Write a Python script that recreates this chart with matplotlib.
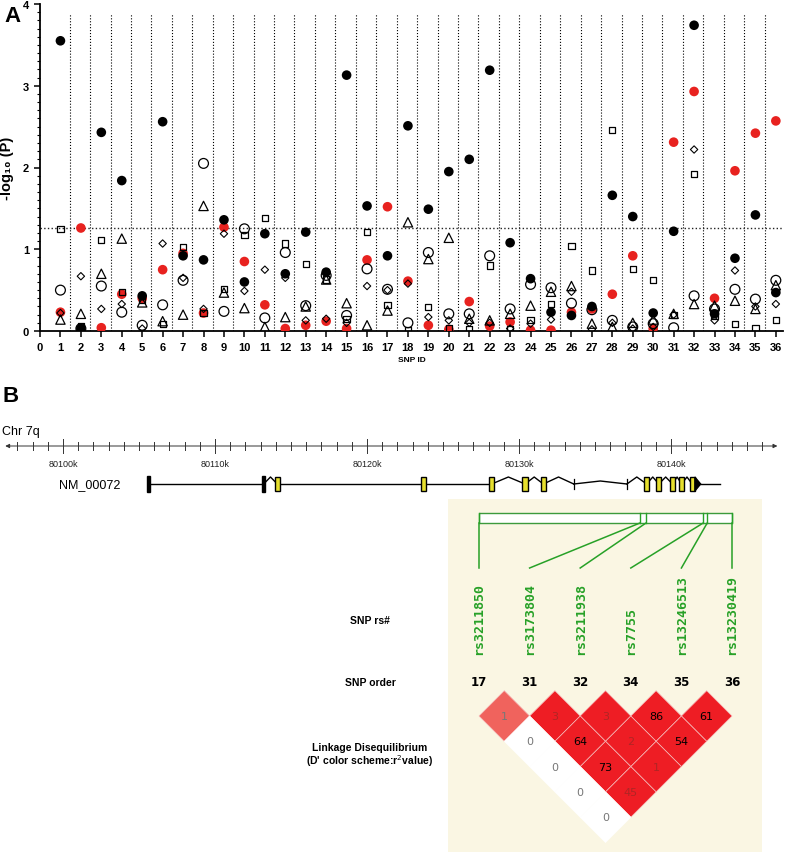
import matplotlib
matplotlib.use('Agg')
import matplotlib.pyplot as plt
import numpy as np
from matplotlib.patches import Rectangle, Polygon

plt.rcParams['font.family'] = ['Liberation Sans', 'DejaVu Sans']

# ---------------- panel A: -log10(P) per SNP, six association tests ----------------
snp_id = np.arange(1, 37)
black_fill = [3.55, 0.03, 2.43, 1.84, 0.43, 2.56, 0.92, 0.87, 1.36, 0.60,
              1.19, 0.70, 1.21, 0.72, 3.13, 1.53, 0.92, 2.51, 1.49, 1.95,
              2.10, 3.19, 1.08, 0.64, 0.23, 0.19, 0.30, 1.66, 1.40, 0.22,
              1.22, 3.74, 0.21, 0.89, 1.42, 0.47]
red_fill = [0.23, 1.26, 0.04, 0.45, 0.40, 0.75, 0.95, 0.22, 1.27, 0.85,
            0.32, 0.03, 0.07, 0.12, 0.03, 0.87, 1.52, 0.61, 0.07, 0.02,
            0.36, 0.06, 0.11, 0.01, 0.01, 0.23, 0.27, 0.45, 0.92, 0.03,
            2.31, 2.93, 0.40, 1.96, 2.42, 2.57]
open_circle = [0.50, 0.03, 0.55, 0.23, 0.07, 0.32, 0.62, 2.05, 0.24, 1.25,
               0.16, 0.96, 0.31, 0.68, 0.19, 0.76, 0.51, 0.10, 0.96, 0.21,
               0.21, 0.92, 0.27, 0.57, 0.53, 0.34, 0.26, 0.13, 0.05, 0.09,
               0.04, 0.43, 0.27, 0.51, 0.39, 0.62]
open_triangle = [0.14, 0.21, 0.70, 1.13, 0.35, 0.12, 0.20, 1.53, 0.47, 0.28,
                 0.05, 0.17, 0.30, 0.63, 0.34, 0.07, 0.25, 1.33, 0.88, 1.14,
                 0.15, 0.13, 0.21, 0.31, 0.48, 0.55, 0.09, 0.05, 0.10, 0.14,
                 0.21, 0.33, 0.31, 0.37, 0.27, 0.56]
open_square = [1.25, 0.06, 1.11, 0.48, 0.38, 0.09, 1.03, 0.22, 0.51, 1.17,
               1.38, 1.07, 0.82, 0.63, 0.15, 1.21, 0.32, 0.01, 0.29, 0.03,
               0.02, 0.80, 0.02, 0.13, 0.33, 1.04, 0.74, 2.46, 0.76, 0.62,
               0.20, 1.92, 0.19, 0.09, 0.04, 0.13]
open_diamond = [0.22, 0.67, 0.27, 0.33, 0.03, 1.07, 0.65, 0.27, 1.19, 0.49,
                0.75, 0.65, 0.13, 0.15, 0.10, 0.55, 0.50, 0.58, 0.17, 0.13,
                0.10, 0.10, 0.03, 0.09, 0.14, 0.48, 0.02, 0.10, 0.03, 0.05,
                0.20, 2.22, 0.13, 0.74, 0.30, 0.33]
threshold = 1.26

# ---------------- panel B: gene track (positions in kb) ----------------
chrom_ticks = [80100, 80110, 80120, 80130, 80140]
chrom_range = (80096.2, 80147.0)
gene_name = "NM_00072"
gene_span = (80105.6, 80143.2)
exon_pos = [80105.6, 80113.2, 80114.1, 80123.7, 80128.2, 80130.4, 80131.6,
            80133.6, 80137.1, 80138.4, 80139.2, 80140.1, 80140.7, 80141.4]
exon_kind = ['utr', 'utr', 'cds', 'cds', 'cds', 'cds', 'cds',
             'tick', 'tick', 'cds', 'cds', 'cds', 'cds', 'end']
intron_bend = [0, 7, 0, 0, 7, 7, 7, 3, 7, 7, 7, 7, 7]

# ---------------- panel B: LD block ----------------
snp_rs = ['rs3211850', 'rs3173804', 'rs3211938', 'rs7755', 'rs13246513', 'rs13230419']
snp_order = ['17', '31', '32', '34', '35', '36']
snp_bar_pos = [0.0, 3.18, 3.30, 4.43, 4.51, 5.0]
ld_pairs = [(0, 1), (1, 2), (2, 3), (3, 4), (4, 5),
            (0, 2), (1, 3), (2, 4), (3, 5),
            (0, 3), (1, 4), (2, 5),
            (0, 4), (1, 5),
            (0, 5)]
ld_r2 = [1, 3, 3, 86, 61,
         0, 64, 2, 54,
         0, 73, 1,
         0, 45,
         0]
ld_dprime_level = [1, 2, 2, 2, 2,
                   0, 2, 2, 2,
                   0, 2, 2,
                   0, 2,
                   0]

W, H = 785, 853
fig = plt.figure(figsize=(W / 100, H / 100), dpi=100)

# ---- panel A ----
ax = fig.add_axes([40 / W, 1 - 332 / H, 743 / W, 327 / H])
ax.set_xlim(0, 36.35)
ax.set_ylim(0, 4)
for xv in np.arange(1, 36) + 0.45:
    ax.axvline(xv, ymax=3.88 / 4, color='black', ls=':', lw=0.8, zorder=1)
ax.axhline(threshold, color='#222222', ls=':', lw=1.0, zorder=1)

ax.scatter(snp_id, red_fill, s=48, color='#e8221f', edgecolors='none', zorder=3)
ax.scatter(snp_id, black_fill, s=48, color='black', edgecolors='none', zorder=4)
ax.scatter(snp_id, open_circle, s=50, facecolors='none', edgecolors='black', lw=0.9, zorder=5)
ax.scatter(snp_id, open_triangle, s=45, marker='^', facecolors='none', edgecolors='black', lw=0.9, zorder=5)
ax.scatter(snp_id, open_square, s=20, marker='s', facecolors='none', edgecolors='black', lw=0.9, zorder=5)
ax.scatter(snp_id, open_diamond, s=14, marker='D', facecolors='none', edgecolors='black', lw=0.8, zorder=5)

ax.spines['top'].set_visible(False)
ax.spines['right'].set_visible(False)
ax.spines['left'].set_linewidth(1.3)
ax.spines['bottom'].set_linewidth(1.3)
ax.set_xticks(range(0, 37))
ax.set_yticks(range(0, 5))
ax.set_yticks(np.arange(0, 4.01, 0.1), minor=True)
ax.tick_params(axis='both', direction='out', width=1.1, length=4, labelsize=8, pad=4)
ax.tick_params(axis='y', which='minor', length=2, width=0.8)
for lbl in ax.get_xticklabels() + ax.get_yticklabels():
    lbl.set_fontweight('bold')
ax.set_xlabel('SNP ID', fontsize=6, fontweight='bold', labelpad=3)
ax.set_ylabel('-log₁₀ (P)', fontsize=10.5, fontweight='bold', labelpad=6)
fig.text(4 / W, 1 - 16 / H, 'A', fontsize=16, fontweight='bold', va='center')
fig.text(2 / W, 1 - 397 / H, 'B', fontsize=16, fontweight='bold', va='center')

# ---- panel B: chromosome axis and gene ----
axg = fig.add_axes([0, 1 - 500 / H, 1, 90 / H])
axg.set_xlim(80100 - 63 / 15.2, 80100 + (W - 63) / 15.2)
axg.set_ylim(500, 410)
axg.set_axis_off()
axg.annotate('', xy=(chrom_range[1], 447), xytext=(chrom_range[0], 447),
             arrowprops=dict(arrowstyle='<|-|>', lw=0.7, color='#333333',
                             mutation_scale=6, shrinkA=0, shrinkB=0))
for k in range(int(chrom_range[0]) + 1, int(chrom_range[1])):
    half = 7 if k in chrom_ticks else 4
    axg.plot([k, k], [447 - half, 447 + half], color='#333333', lw=0.7)
for k in chrom_ticks:
    axg.text(k, 465, f'{k}k', ha='center', va='center', fontsize=6.5, color='#222222')
axg.text(80096.2 - 0.2, 432, 'Chr 7q', ha='left', va='center', fontsize=9)
axg.text(80103.8, 485, gene_name, ha='right', va='center', fontsize=9)

gy = 485
axg.plot([exon_pos[-1], gene_span[1]], [gy, gy], color='black', lw=1)
for a, b, bend in zip(exon_pos[:-1], exon_pos[1:], intron_bend):
    axg.plot([a, (a + b) / 2, b], [gy, gy - bend, gy], color='black', lw=1)
for pos, kind in zip(exon_pos, exon_kind):
    if kind == 'utr':
        axg.add_patch(Rectangle((pos - 0.1, gy - 8), 0.2, 16, color='black', zorder=3))
    elif kind == 'tick':
        axg.plot([pos, pos], [gy - 5, gy + 5], color='black', lw=0.9)
    else:
        axg.add_patch(Rectangle((pos - 0.17, gy - 7), 0.34, 14, facecolor='#e6df2e',
                                edgecolor='black', lw=1, zorder=3))
        if kind == 'end':
            axg.add_patch(Polygon([[pos + 0.17, gy - 7], [pos + 0.55, gy], [pos + 0.17, gy + 7]],
                                  closed=True, color='black', zorder=3))

# ---- panel B: LD block ----
u = 50.6
axl = fig.add_axes([448 / W, 0, (762 - 448) / W, (853 - 500) / H])
axl.set_xlim((448 - 479) / u, (762 - 479) / u)
axl.set_ylim((853 - 683) / u, (500 - 683) / u)
axl.set_facecolor('#faf6e3')
for sp in axl.spines.values():
    sp.set_visible(False)
axl.set_xticks([])
axl.set_yticks([])

bar_top, bar_bot, link_end = -3.34, -3.142, -2.253
axl.add_patch(Rectangle((0, bar_top), 5, bar_bot - bar_top, facecolor='white',
                        edgecolor='#3c9a3c', lw=1))
green = '#27a127'
for i, bp in enumerate(snp_bar_pos):
    axl.plot([bp, bp], [bar_top, bar_bot], color=green, lw=1)
    axl.plot([bp, i], [bar_bot, link_end], color=green, lw=1.1)
    axl.text(i, -0.553, snp_rs[i], rotation=90, ha='center', va='bottom', color=green,
             fontsize=9.5, fontweight='bold', family='DejaVu Sans Mono')
    axl.text(i, 0, snp_order[i], ha='center', va='center', fontsize=8.5,
             fontweight='bold', family='DejaVu Sans')

fill_for_level = {0: 'white', 1: '#f0635d', 2: '#ee1d24'}
for (i, j), r2, lev in zip(ld_pairs, ld_r2, ld_dprime_level):
    cx = (i + j) / 2
    cy = 0.672 + (j - i - 1) * 0.5
    axl.add_patch(Polygon([[cx - 0.5, cy], [cx, cy - 0.5], [cx + 0.5, cy], [cx, cy + 0.5]],
                          closed=True, facecolor=fill_for_level[lev],
                          edgecolor='#f6b9b9' if lev else 'white', lw=0.5))
    if lev == 2:
        tc = 'black' if r2 >= 50 else '#b02525'
    else:
        tc = '#777777'
    axl.text(cx, cy, str(r2), ha='center', va='center', fontsize=8,
             family='DejaVu Sans', color=tc)

lx = (370 - 479) / u
axl.text(lx, (621 - 683) / u, 'SNP rs#', ha='center', va='center', fontsize=7.5, fontweight='bold')
axl.text(lx, 0, 'SNP order', ha='center', va='center', fontsize=7.5, fontweight='bold')
axl.text(lx, (748 - 683) / u, 'Linkage Disequilibrium', ha='center', va='center',
         fontsize=7.5, fontweight='bold')
axl.text(lx, (761 - 683) / u, "(D' color scheme:r$^{2}$value)", ha='center', va='center',
         fontsize=7.5, fontweight='bold')

fig.savefig('out.png', dpi=100)
